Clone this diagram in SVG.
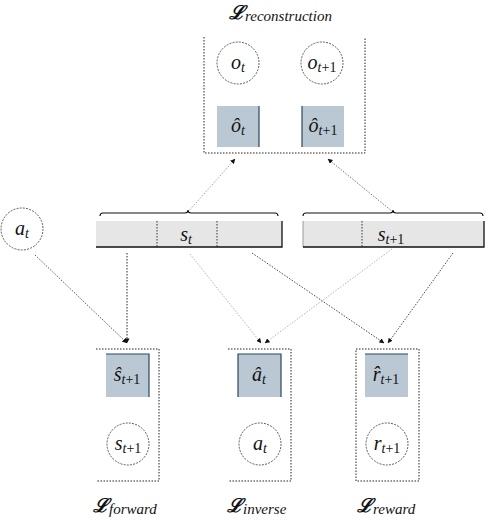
<svg xmlns="http://www.w3.org/2000/svg" width="488" height="520" viewBox="0 0 488 520">
<defs>
<marker id="ah" viewBox="0 0 6 6" refX="5.5" refY="3" markerWidth="5" markerHeight="5" orient="auto" markerUnits="userSpaceOnUse">
<path d="M0,0 L6,3 L0,6 Z" fill="#111"/>
</marker>
</defs>
<style>
.frame{fill:none;stroke:#222;stroke-width:1;stroke-dasharray:1.5 1.5}
.circ{fill:#fff;stroke:#333;stroke-width:0.8;stroke-dasharray:2 1.2}
.sq{fill:#bac8d3}
.sqe{fill:none;stroke:#2a4660;stroke-width:1.2}
.bar{fill:#e6e6e6}
.bare{fill:none;stroke:#111;stroke-width:1.3}
.div{stroke:#222;stroke-width:0.9;stroke-dasharray:1.5 1.5}
.brace{fill:none;stroke:#111;stroke-width:1.1}
.m{font-family:"Liberation Serif",serif;font-style:italic;font-size:20px;fill:#111}
.sub{font-size:14px}
.up{font-style:normal}
.L{font-family:"DejaVu Serif","Liberation Serif",serif;font-style:italic;font-weight:bold;font-size:19px;fill:#111}
.ls{font-family:"Liberation Serif",serif;font-style:italic;font-weight:normal;font-size:15px}
.c{fill:none;stroke-width:0.9;stroke-dasharray:1.5 1.5;marker-end:url(#ah)}
</style>

<g id="connectors">
<line class="c" x1="188" y1="212" x2="235" y2="159" stroke="#999"/>
<line class="c" x1="393" y1="212" x2="328" y2="159" stroke="#666"/>
<line class="c" x1="35" y1="255" x2="127" y2="343" stroke="#444"/>
<line class="c" x1="127" y1="253" x2="127" y2="343" stroke="#111" stroke-width="1.2"/>
<line class="c" x1="190" y1="254" x2="261" y2="343" stroke="#aaa"/>
<line class="c" x1="252" y1="253" x2="384" y2="343" stroke="#333"/>
<line class="c" x1="392" y1="249" x2="265" y2="343" stroke="#aaa"/>
<line class="c" x1="453" y1="253" x2="388" y2="343" stroke="#333"/>
</g>

<g id="reconstruction">
<path class="frame" d="M204,37 V153 H365 V37"/>
<text class="L" x="229" y="19">ℒ<tspan class="ls" dy="2">reconstruction</tspan></text>
<g id="o_t">
<circle class="circ" cx="238" cy="63" r="21"/>
<text class="m" x="238" y="69" text-anchor="middle">o<tspan class="sub" dy="3">t</tspan></text>
</g>
<g id="o_t1">
<circle class="circ" cx="322" cy="63" r="21"/>
<text class="m" x="322" y="69" text-anchor="middle">o<tspan class="sub" dy="3">t<tspan class="up">+1</tspan></tspan></text>
</g>
<g id="ohat_t">
<rect class="sq" x="217" y="106" width="42" height="41"/>
<path class="sqe" d="M259,106 V147"/>
<text class="m" x="238" y="132" text-anchor="middle">ô<tspan class="sub" dy="3">t</tspan></text>
</g>
<g id="ohat_t1">
<rect class="sq" x="302" y="106" width="42" height="41"/>
<path class="sqe" d="M302,106 V147"/>
<text class="m" x="323" y="132" text-anchor="middle">ô<tspan class="sub" dy="3">t<tspan class="up">+1</tspan></tspan></text>
</g>
</g>

<g id="a_t">
<circle class="circ" cx="22" cy="229" r="21"/>
<text class="m" x="22" y="235" text-anchor="middle">a<tspan class="sub" dy="3">t</tspan></text>
</g>

<g id="s_t">
<path class="brace" d="M100,216 Q100,213 103,213 H185 Q188,213 188,210 Q188,213 191,213 H275 Q278,213 278,216"/>
<rect class="bar" x="96" y="221" width="186" height="26"/>
<path class="bare" d="M96,247 H282 V221"/>
<line class="div" x1="157" y1="221" x2="157" y2="247"/>
<line class="div" x1="217" y1="221" x2="217" y2="247"/>
<text class="m" x="186" y="241" text-anchor="middle">s<tspan class="sub" dy="3">t</tspan></text>
</g>

<g id="s_t1">
<path class="brace" d="M303,216 Q303,213 306,213 H390 Q393,213 393,210 Q393,213 396,213 H480 Q483,213 483,216"/>
<rect class="bar" x="303" y="221" width="181" height="26"/>
<path d="M303,247 V221" stroke="#888" stroke-width="0.8" fill="none"/>
<path class="bare" d="M303,247 H484 V221"/>
<line class="div" x1="362" y1="221" x2="362" y2="247"/>
<text class="m" x="391" y="241" text-anchor="middle">s<tspan class="sub" dy="3">t<tspan class="up">+1</tspan></tspan></text>
</g>

<g id="forward">
<path class="frame" d="M96,349 H159 V481 H96"/>
<g id="shat_t1">
<rect class="sq" x="106" y="354" width="43" height="43"/>
<path class="sqe" d="M106,354 H149 V397"/>
<text class="m" x="127" y="381" text-anchor="middle">ŝ<tspan class="sub" dy="3">t<tspan class="up">+1</tspan></tspan></text>
</g>
<g id="s_t1_gt">
<circle class="circ" cx="128" cy="444" r="21"/>
<text class="m" x="128" y="450" text-anchor="middle">s<tspan class="sub" dy="3">t<tspan class="up">+1</tspan></tspan></text>
</g>
<text class="L" x="93" y="512">ℒ<tspan class="ls" dy="2">forward</tspan></text>
</g>

<g id="inverse">
<path class="frame" d="M228,349 H291 V481 H228"/>
<g id="ahat_t">
<rect class="sq" x="238" y="354" width="43" height="43"/>
<path class="sqe" d="M238,397 V354 H281 V397"/>
<text class="m" x="259" y="381" text-anchor="middle">â<tspan class="sub" dy="3">t</tspan></text>
</g>
<g id="a_t_gt">
<circle class="circ" cx="260" cy="444" r="21"/>
<text class="m" x="260" y="450" text-anchor="middle">a<tspan class="sub" dy="3">t</tspan></text>
</g>
<text class="L" x="227" y="512">ℒ<tspan class="ls" dy="2">inverse</tspan></text>
</g>

<g id="reward">
<rect class="frame" x="356" y="349" width="63" height="132"/>
<g id="rhat_t1">
<rect class="sq" x="365" y="354" width="43" height="43"/>
<path class="sqe" d="M365,354 H408"/>
<text class="m" x="386" y="381" text-anchor="middle">r̂<tspan class="sub" dy="3">t<tspan class="up">+1</tspan></tspan></text>
</g>
<g id="r_t1">
<circle class="circ" cx="387" cy="444" r="21"/>
<text class="m" x="387" y="450" text-anchor="middle">r<tspan class="sub" dy="3">t<tspan class="up">+1</tspan></tspan></text>
</g>
<text class="L" x="357" y="512">ℒ<tspan class="ls" dy="2">reward</tspan></text>
</g>
</svg>
